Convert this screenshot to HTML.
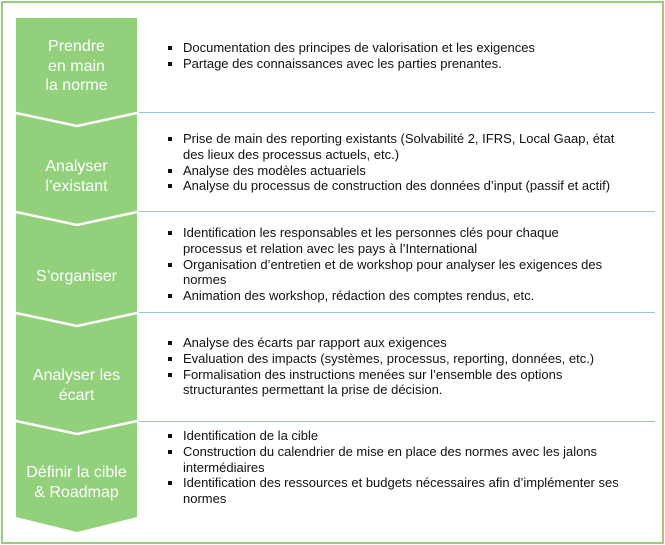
<!DOCTYPE html>
<html><head><meta charset="utf-8"><style>
body{margin:0;width:665px;height:545px;position:relative;background:#fff;font-family:"Liberation Sans",Arial,sans-serif;overflow:hidden}
.frame{position:absolute;left:1px;top:1px;width:659px;height:539px;border:2px solid #92d07c}
.lbl{position:absolute;left:16px;width:121px;text-align:center;color:#fff;font-size:16px;line-height:19.5px}
ul{position:absolute;left:167px;margin:0;padding:0;list-style:none;font-size:13px;line-height:15.8px;color:#111;width:490px;white-space:nowrap}
li{position:relative;padding-left:16px}
li:before{content:"";position:absolute;left:1px;top:6px;width:4px;height:4px;background:#111}
.bl{position:absolute;left:139px;width:516px;height:0;border-top:1.5px solid #9cc3e6}
</style></head><body>
<div class="frame"></div>
<svg width="665" height="545" style="position:absolute;left:0;top:0">
<polygon points="16,18 137,18 137,517 77,532 16,517" fill="#92d07c"/>
<g fill="none" stroke="#fff" stroke-width="2.5">
<polyline points="16,113 77,126 137,113"/>
<polyline points="16,212 77,225 137,212"/>
<polyline points="16,313 77,326 137,313"/>
<polyline points="16,421 77,434 137,421"/>
</g>
</svg>
<div class="bl" style="top:112px"></div>
<div class="bl" style="top:211px"></div>
<div class="bl" style="top:312px"></div>
<div class="bl" style="top:421px"></div>
<div class="lbl" style="top:37px">Prendre<br>en main<br>la norme</div>
<div class="lbl" style="top:157px">Analyser<br>l’existant</div>
<div class="lbl" style="top:267px">S’organiser</div>
<div class="lbl" style="top:366px">Analyser les<br>écart</div>
<div class="lbl" style="top:463px">Définir la cible<br>&amp; Roadmap</div>
<ul style="top:40px"><li>Documentation des principes de valorisation et les exigences</li><li>Partage des connaissances avec les parties prenantes.</li></ul>
<ul style="top:131px"><li>Prise de main des reporting existants (Solvabilité 2, IFRS, Local Gaap, état<br>des lieux des processus actuels, etc.)</li><li>Analyse des modèles actuariels</li><li>Analyse du processus de construction des données d’input (passif et actif)</li></ul>
<ul style="top:225px"><li>Identification les responsables et les personnes clés pour chaque<br>processus et relation avec les pays à l’International</li><li>Organisation d’entretien et de workshop pour analyser les exigences des<br>normes</li><li>Animation des workshop, rédaction des comptes rendus, etc.</li></ul>
<ul style="top:335px"><li>Analyse des écarts par rapport aux exigences</li><li>Evaluation des impacts (systèmes, processus, reporting, données, etc.)</li><li>Formalisation des instructions menées sur l’ensemble des options<br>structurantes permettant la prise de décision.</li></ul>
<ul style="top:428px"><li>Identification de la cible</li><li>Construction du calendrier de mise en place des normes avec les jalons<br>intermédiaires</li><li>Identification des ressources et budgets nécessaires afin d’implémenter ses<br>normes</li></ul>
</body></html>
